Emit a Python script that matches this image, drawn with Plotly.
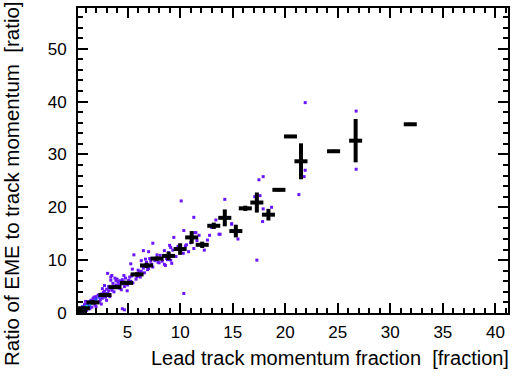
import plotly.graph_objects as go

# Profile (black crosses)
prof_x = [0.4, 0.8, 1.7, 2.85, 3.8, 4.9, 5.9, 6.8, 7.8, 8.9, 10.0, 11.1, 12.1, 13.2, 14.25,
          15.3, 16.2, 17.3, 18.4, 19.4, 20.5, 21.5, 24.6, 26.7, 31.9]
prof_y = [0.4, 0.9, 2.0, 3.4, 4.9, 5.7, 7.3, 9.0, 10.3, 10.8, 12.1, 14.3, 12.9, 16.5, 18.0,
          15.5, 19.8, 20.9, 18.6, 23.3, 33.4, 28.7, 30.6, 32.6, 35.7]
prof_yerr = [0.2, 0.3, 0.4, 0.4, 0.4, 0.4, 0.4, 0.5, 0.4, 0.8, 1.1, 1.2, 0.6, 0.6, 1.6,
             1.2, 0.5, 1.9, 1.1, 0.2, 0.2, 3.4, 0.2, 4.1, 0.2]
prof_xerr = [0.62] * len(prof_x)

# 2D histogram entries (purple cells)
dots_x = [0.4, 0.5, 0.7, 0.9, 1.1, 1.3, 1.6, 1.7, 1.9, 2.1, 2.2, 2.4,
          2.5, 2.6, 2.8, 2.9, 3.0, 3.1, 3.2, 3.3, 3.5, 3.6, 3.7, 3.9, 3.4, 3.1, 3.5, 3.8, 4.0, 4.3, 4.1,
          4.2, 4.4, 4.5, 4.7, 4.8, 5.0, 5.2, 5.3, 5.5, 5.6, 5.8, 4.96, 4.5, 4.7,
          6.0, 6.2, 6.3, 6.5, 6.6, 6.8, 7.0, 7.1, 7.3, 7.4, 7.6, 7.8, 7.0, 6.3, 7.4, 6.5, 5.6,
          8.1, 8.3, 8.5, 8.7, 8.9, 9.1, 9.3, 9.4, 9.6, 9.8, 8.0, 9.0,
          10.35, 11.4, 10.3, 10.6, 11.0, 11.3, 11.6, 10.1, 10.35, 11.8, 10.8,
          11.3, 11.5, 12.8, 13.7, 12.6, 13.4, 14.9, 12.3, 13.0, 14.25, 9.2, 8.5,
          5.45, 5.3, 4.65, 3.9, 3.4, 6.7, 8.6, 9.1, 10.5,
          17.9, 17.5, 17.6, 17.1, 18.7, 17.9, 17.85, 21.3, 21.9, 21.8, 14.9, 15.5, 13.8, 17.3,
          21.9, 26.75, 26.75, 2.0, 1.5, 2.7, 3.3, 4.0, 5.1, 6.1, 6.9, 7.9, 8.8,
          1.2, 1.4, 1.8, 2.3, 2.6, 2.9, 3.2, 3.6, 4.2, 4.6, 5.4, 5.9, 6.4, 7.2, 2.0, 2.5,
          3.0, 4.4, 1.0, 2.8]
dots_y = [0.2, 0.9, 0.3, 1.6, 0.5, 2.1, 1.1, 2.7, 1.5, 2.0, 3.4, 2.5,
          3.6, 2.8, 4.1, 3.0, 4.5, 3.7, 5.0, 3.1, 4.3, 5.6, 4.0, 5.3, 6.2, 7.5, 7.1, 6.6, 6.4, 6.1, 5.9,
          4.7, 5.5, 6.3, 5.0, 6.6, 5.3, 6.8, 6.0, 5.7, 7.3, 6.4, 4.2, 0.8, 0.6,
          8.1, 6.8, 7.9, 8.5, 7.6, 9.6, 8.4, 10.3, 9.2, 8.7, 9.9, 11.0, 11.6, 9.9, 13.2, 11.8, 11.0,
          10.9, 9.8, 11.8, 10.3, 11.4, 10.0, 11.9, 14.3, 10.7, 12.6, 9.5, 12.8,
          15.6, 15.2, 11.3, 12.9, 13.3, 12.2, 13.7, 21.2, 3.7, 14.7, 11.6,
          18.1, 15.2, 14.7, 14.9, 13.8, 17.6, 16.8, 11.9, 16.2, 21.5, 9.4, 9.2,
          8.3, 9.3, 7.1, 6.1, 6.8, 10.2, 9.0, 12.4, 12.7,
          25.8, 25.2, 22.2, 22.0, 20.0, 19.7, 17.3, 22.4, 27.0, 25.8, 16.9, 14.0, 14.9, 10.0,
          39.8, 38.2, 27.2, 3.1, 2.4, 3.9, 4.8, 5.2, 6.2, 7.8, 8.2, 9.6, 10.1,
          1.9, 0.8, 3.0, 2.1, 4.6, 3.5, 4.2, 4.8, 5.4, 5.9, 7.0, 6.9, 8.9, 9.8, 1.2, 1.7,
          2.4, 4.4, 2.2, 5.2]

# denser cells near origin
blue_x = [0.5, 0.8, 1.2, 1.4, 1.8, 2.0, 1.0, 0.7, 2.3]
blue_y = [0.4, 0.6, 1.5, 1.2, 2.3, 2.6, 0.9, 1.2, 3.0]
cyan_x = [0.6, 1.1, 1.5, 0.9]
cyan_y = [0.8, 1.2, 1.8, 1.0]

fig = go.Figure()
fig.add_trace(go.Scatter(x=dots_x, y=dots_y, mode="markers",
                         marker=dict(symbol="square", size=3, color="#6a14ff", line=dict(width=0)),
                         showlegend=False, hoverinfo="skip"))
fig.add_trace(go.Scatter(x=blue_x, y=blue_y, mode="markers",
                         marker=dict(symbol="square", size=3, color="#2a3cff", line=dict(width=0)),
                         showlegend=False, hoverinfo="skip"))
fig.add_trace(go.Scatter(x=cyan_x, y=cyan_y, mode="markers",
                         marker=dict(symbol="square", size=3, color="#00d8c8", line=dict(width=0)),
                         showlegend=False, hoverinfo="skip"))
fig.add_trace(go.Scatter(x=prof_x, y=prof_y, mode="markers",
                         marker=dict(size=3, color="black", symbol="square"),
                         error_x=dict(type="data", array=prof_xerr, color="black", thickness=4, width=0),
                         error_y=dict(type="data", array=prof_yerr, color="black", thickness=4, width=0),
                         showlegend=False))

axis_common = dict(showline=True, linecolor="black", linewidth=2, mirror="ticks",
                   ticks="inside", tickwidth=2, ticklen=10, tickcolor="black",
                   showgrid=False, zeroline=False,
                   tickfont=dict(family="Liberation Sans, Arial", size=17, color="black"))

fig.update_layout(
    width=516, height=376,
    margin=dict(l=78, r=6, t=7, b=63),
    paper_bgcolor="white", plot_bgcolor="white",
    xaxis=dict(range=[0.28, 41.2], dtick=5, tick0=0, ticklabelstandoff=3,
               minor=dict(dtick=1, ticks="inside", ticklen=5, tickwidth=2, tickcolor="black"),
               **axis_common),
    yaxis=dict(range=[0, 57.7], dtick=10, tick0=0, ticklabelstandoff=6,
               minor=dict(dtick=2, ticks="inside", ticklen=5, tickwidth=2, tickcolor="black"),
               **axis_common),
    annotations=[
        dict(text="Lead track momentum fraction  [fraction]", xref="paper", yref="paper",
             x=1, y=0, xanchor="right", yanchor="top", yshift=-32, xshift=3, showarrow=False,
             font=dict(family="Liberation Sans, Arial", size=20, color="black")),
        dict(text="Ratio of EME to track momentum  [ratio]", xref="paper", yref="paper",
             x=0, y=1, xanchor="left", yanchor="top", xshift=-80, yshift=9, showarrow=False,
             textangle=-90,
             font=dict(family="Liberation Sans, Arial", size=20.5, color="black")),
    ],
)

fig.write_html("out.html")
